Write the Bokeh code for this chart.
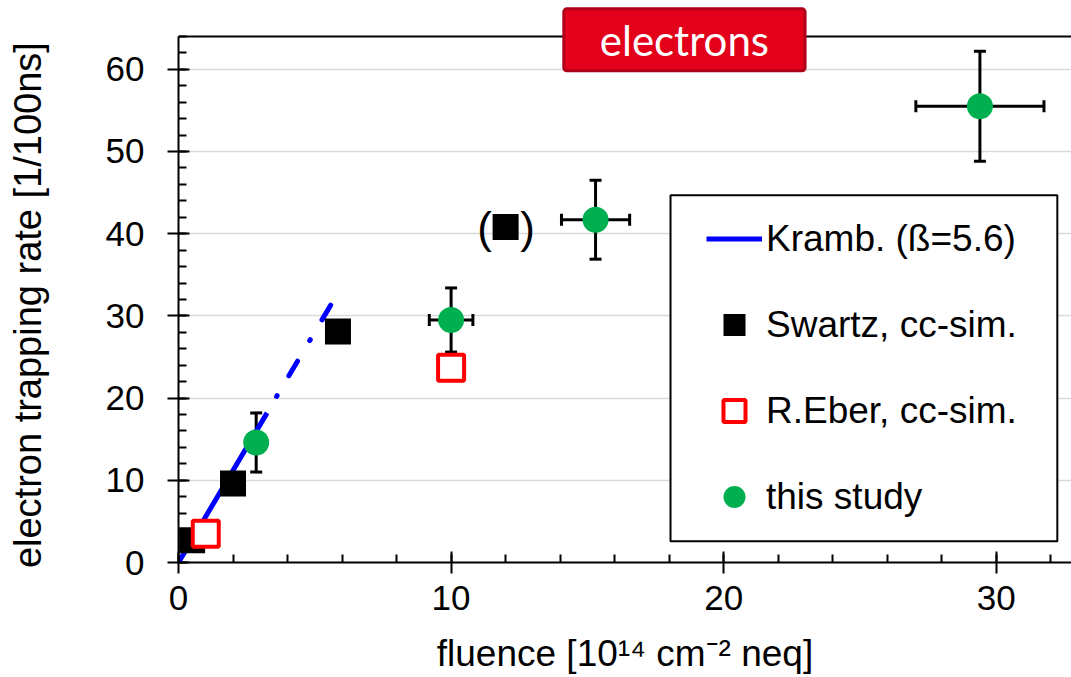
from bokeh.plotting import figure
from bokeh.models import (ColumnDataSource, Whisker, TeeHead, Legend, LegendItem,
                          SingleIntervalTicker, BoxAnnotation, Label, Range1d, Span)
from bokeh.core.properties import value
from bokeh.embed import file_html
from bokeh.resources import INLINE

# ---------------- data ----------------
kramb_solid_x = [0.0, 3.25]
kramb_solid_y = [0.0, 18.2]
kramb_ext_x = [3.6, 5.6]
kramb_ext_y = [20.2, 31.4]

swartz_x = [0.5, 2.0, 5.85, 12.0]
swartz_y = [2.7, 9.6, 28.1, 40.8]
swartz_paren_x = [12.0]
swartz_paren_y = [40.8]

eber_x = [1.0, 10.0]
eber_y = [3.5, 23.7]

study_x = [2.85, 10.0, 15.3, 29.4]
study_y = [14.6, 29.5, 41.7, 55.5]
study_yerr = [3.6, 3.9, 4.8, 6.7]
study_xerr = [0.0, 0.8, 1.25, 2.35]

x_label = "fluence [10\u00b9\u2074 cm\u207b\u00b2 neq]"
y_label = "electron trapping rate [1/100ns]"
legend_labels = ["Kramb. (\u00df=5.6)", "Swartz, cc-sim.", "R.Eber, cc-sim.", "this study"]
title_text = "electrons"

FONT = "Liberation Sans"
Y_AXIS_TOP = 64

p = figure(width=1071, height=677,
           x_range=Range1d(0, 32.76), y_range=Range1d(0, 67.76),
           output_backend="svg", toolbar_location=None,
           min_border_left=178, min_border_right=0, min_border_top=5, min_border_bottom=115,
           background_fill_color="white", border_fill_color="white",
           outline_line_color=None)

# axes
xt = SingleIntervalTicker(interval=10, num_minor_ticks=5)
yt = SingleIntervalTicker(interval=10, num_minor_ticks=5)
p.xaxis.ticker = xt
p.yaxis.ticker = yt
p.ygrid.ticker = yt
p.xgrid.visible = False
p.ygrid.grid_line_color = "#d9d9d9"
p.ygrid.grid_line_width = 1.5
p.yaxis.bounds = (0, Y_AXIS_TOP)

for ax in (p.xaxis[0], p.yaxis[0]):
    ax.axis_line_width = 2
    ax.axis_line_color = "black"
    ax.major_tick_line_width = 2
    ax.major_tick_line_color = "black"
    ax.major_tick_in = 11
    ax.major_tick_out = 11
    ax.minor_tick_line_width = 2
    ax.minor_tick_line_color = "black"
    ax.minor_tick_in = 8
    ax.minor_tick_out = 0
    ax.major_label_text_font = FONT
    ax.major_label_text_font_size = "35px"
    ax.major_label_text_color = "black"
    ax.axis_label_text_font = FONT
    ax.axis_label_text_font_size = "37px"
    ax.axis_label_text_font_style = "normal"
    ax.axis_label_text_color = "black"

p.xaxis.axis_label = x_label
# non-breaking spaces keep the label centred on the 0-64 axis span
p.yaxis.axis_label = y_label + "\u00a0" * 4
p.yaxis.axis_label_text_font_size = "38px"
p.xaxis.major_label_standoff = 12
p.xaxis.axis_label_standoff = 20
p.yaxis.major_label_standoff = 23
p.yaxis.axis_label_standoff = 54

# top border of the plot area
p.add_layout(Span(location=Y_AXIS_TOP, dimension="width", line_color="black", line_width=2))

# error bars
err_src = ColumnDataSource(dict(
    x=study_x, y=study_y,
    ylo=[v - e for v, e in zip(study_y, study_yerr)],
    yhi=[v + e for v, e in zip(study_y, study_yerr)],
    xlo=[v - e for v, e in zip(study_x, study_xerr)],
    xhi=[v + e for v, e in zip(study_x, study_xerr)],
))
wy = Whisker(base="x", lower="ylo", upper="yhi", source=err_src, dimension="height",
             line_width=3, line_color="black",
             upper_head=TeeHead(size=12, line_width=3, line_color="black"),
             lower_head=TeeHead(size=12, line_width=3, line_color="black"))
wx = Whisker(base="y", lower="xlo", upper="xhi", source=err_src, dimension="width",
             line_width=3, line_color="black",
             upper_head=TeeHead(size=12, line_width=3, line_color="black"),
             lower_head=TeeHead(size=12, line_width=3, line_color="black"))
p.add_layout(wy)
p.add_layout(wx)

# Kramberger line
r_line = p.line(kramb_solid_x, kramb_solid_y, line_color="#0000FF", line_width=5)
p.line(kramb_ext_x, kramb_ext_y, line_color="#0000FF", line_width=5,
       line_dash="1 23 17 24", line_cap="round")

# Swartz squares
r_sw = p.scatter(swartz_x, swartz_y, marker="square", size=26,
                 fill_color="black", line_color="black", line_width=0)
p.text(swartz_paren_x, swartz_paren_y, text=["("], x_offset=-21,
       text_align="center", text_baseline="middle",
       text_font=value(FONT), text_font_size="44px", text_color="black")
p.text(swartz_paren_x, swartz_paren_y, text=[")"], x_offset=22,
       text_align="center", text_baseline="middle",
       text_font=value(FONT), text_font_size="44px", text_color="black")

# Eber open squares
r_eb = p.scatter(eber_x, eber_y, marker="square", size=26,
                 fill_color="white", line_color="#FF0000", line_width=4)

# this study
r_st = p.scatter(study_x, study_y, marker="circle", size=26,
                 fill_color="#00B050", line_color="#00B050", line_width=0)

# legend box + legend
box = BoxAnnotation(left=18.05, right=32.24, bottom=2.59, top=44.68,
                    fill_color="white", fill_alpha=1.0,
                    line_color="black", line_width=2, line_alpha=1.0)
p.add_layout(box)

legend = Legend(items=[
    LegendItem(label=legend_labels[0], renderers=[r_line]),
    LegendItem(label=legend_labels[1], renderers=[r_sw]),
    LegendItem(label=legend_labels[2], renderers=[r_eb]),
    LegendItem(label=legend_labels[3], renderers=[r_st]),
], location=(528, 38), padding=0, spacing=31,
   glyph_width=56, glyph_height=55, label_height=55, label_standoff=4,
   label_text_font=FONT, label_text_font_size="37px", label_text_color="black",
   border_line_color=None, background_fill_alpha=0.0, margin=0)
p.add_layout(legend)

# title box
title = Label(x=18.56, y=63.58, x_units="data", y_units="data", text=title_text,
              text_font="Lato", text_font_size="42px", text_color="white",
              text_align="center", text_baseline="middle",
              background_fill_color="#E2001A", border_line_color="#B0001A",
              border_line_width=3, padding=(36, 6), border_radius=3)
p.add_layout(title)

open("out.html", "w").write(file_html(p, INLINE))
